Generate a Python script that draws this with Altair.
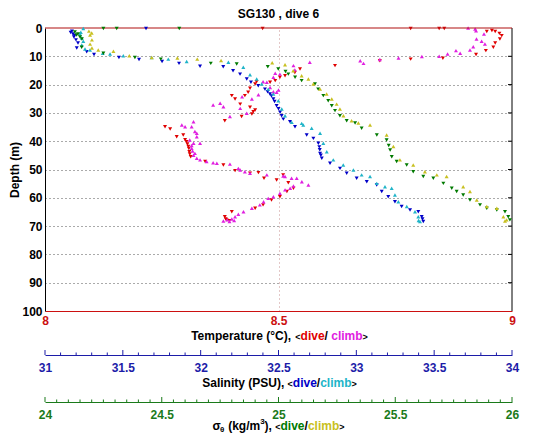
import altair as alt
import pandas as pd

# ---------------- data (depth m, value) ----------------
temp_dive = [(0.2, 8.466), (0.2, 8.783), (0.2, 8.844), (0.2, 8.855), (0.9, 8.957), (1.2, 8.946), (1.2, 8.964),
             (1.9, 8.973), (2.7, 8.978), (3.9, 8.974), (5.3, 8.964), (6.8, 8.960), (8.0, 8.944), (9.4, 8.923),
             (10.7, 8.852), (11.0, 8.783), (11.6, 8.717), (13.3, 8.621), (14.5, 8.546), (15.7, 8.535),
             (16.9, 8.514), (17.4, 8.503), (18.6, 8.493), (19.2, 8.482), (19.0, 8.453), (19.8, 8.450),
             (21.3, 8.439), (22.7, 8.435), (23.9, 8.428), (23.9, 8.400), (25.1, 8.407), (26.9, 8.418),
             (28.0, 8.439), (29.0, 8.450), (29.6, 8.446), (30.4, 8.443), (31.3, 8.421), (32.8, 8.385),
             (34.9, 8.257), (35.7, 8.268), (37.8, 8.296), (38.4, 8.282), (39.5, 8.300), (40.2, 8.303),
             (41.0, 8.305), (41.9, 8.307), (42.6, 8.308), (43.7, 8.309), (44.5, 8.310), (45.5, 8.312),
             (47.2, 8.343), (48.4, 8.382), (50.4, 8.407), (51.3, 8.439), (51.1, 8.457), (53.1, 8.469),
             (53.7, 8.496), (51.9, 8.510), (54.7, 8.521), (56.6, 8.532), (57.8, 8.518), (59.6, 8.503),
             (60.8, 8.485), (62.5, 8.467), (63.7, 8.450), (64.9, 8.400), (66.7, 8.385), (67.5, 8.387),
             (67.8, 8.389), (68.1, 8.395)]
temp_climb = [(0.0, 8.906), (0.35, 8.921), (0.95, 8.923), (2.1, 8.940), (3.9, 8.924), (4.7, 8.935), (5.65, 8.942),
              (6.6, 8.917), (7.8, 8.910), (8.0, 8.880), (8.9, 8.889), (9.2, 8.862), (10.0, 8.844), (10.1, 8.807),
              (10.6, 8.757), (11.1, 8.717), (11.6, 8.675), (12.5, 8.682), (12.1, 8.567), (13.3, 8.532),
              (14.8, 8.535), (16.0, 8.493), (16.3, 8.503), (17.4, 8.489), (19.0, 8.467), (19.2, 8.475),
              (21.0, 8.482), (21.9, 8.500), (22.5, 8.489), (22.7, 8.496), (23.6, 8.457), (24.3, 8.422),
              (25.1, 8.443), (26.6, 8.375), (27.2, 8.360), (27.8, 8.382), (28.4, 8.418), (30.1, 8.432),
              (31.3, 8.396), (33.1, 8.318), (34.3, 8.293), (34.9, 8.300), (34.9, 8.314), (36.6, 8.321),
              (37.2, 8.325), (38.4, 8.325), (39.6, 8.310), (40.7, 8.318), (40.7, 8.332), (41.5, 8.314),
              (42.5, 8.314), (43.5, 8.316), (44.3, 8.321), (45.0, 8.318), (46.0, 8.325), (46.6, 8.332),
              (47.2, 8.346), (47.6, 8.360), (47.8, 8.368), (48.1, 8.396), (49.6, 8.414), (50.2, 8.418),
              (50.8, 8.428), (51.3, 8.439), (51.9, 8.475), (52.3, 8.510), (52.5, 8.514), (53.1, 8.528),
              (53.1, 8.539), (54.3, 8.550), (55.5, 8.564), (55.8, 8.532), (56.6, 8.525), (57.2, 8.514),
              (58.4, 8.503), (59.6, 8.489), (60.2, 8.478), (61.4, 8.468), (62.5, 8.460), (63.7, 8.443),
              (64.9, 8.425), (65.8, 8.414), (66.7, 8.407), (67.5, 8.400), (67.8, 8.390), (68.2, 8.382),
              (68.4, 8.395), (68.0, 8.405)]
sal_dive = [(0.2, 31.649), (1.1, 31.173), (1.6, 31.165), (2.1, 31.180), (2.6, 31.190), (3.2, 31.186),
            (4.2, 31.199), (5.3, 31.212), (7.1, 31.204), (8.4, 31.268), (9.4, 31.315), (10.4, 31.475),
            (11.1, 31.604), (11.8, 31.752), (12.5, 31.861), (13.5, 31.996), (13.7, 32.145), (15.1, 32.208),
            (16.3, 32.253), (18.0, 32.296), (19.2, 32.323), (20.4, 32.370), (21.6, 32.413), (22.5, 32.430),
            (23.3, 32.445), (24.0, 32.455), (25.1, 32.467), (26.0, 32.475), (27.5, 32.488), (28.5, 32.500),
            (29.8, 32.510), (31.0, 32.520), (32.2, 32.531), (33.1, 32.574), (34.9, 32.606), (37.8, 32.681),
            (39.0, 32.724), (40.7, 32.756), (42.0, 32.762), (43.0, 32.765), (44.3, 32.767), (45.0, 32.772),
            (46.0, 32.778), (47.8, 32.831), (49.6, 32.895), (51.3, 32.938), (53.1, 33.002), (54.3, 33.067),
            (55.5, 33.131), (57.8, 33.163), (59.6, 33.205), (61.4, 33.248), (63.1, 33.291), (64.3, 33.345),
            (64.9, 33.398), (66.7, 33.420), (67.5, 33.425), (68.4, 33.430)]
sal_climb = [(0.2, 31.246), (1.5, 31.230), (2.1, 31.225), (3.5, 31.236), (4.7, 31.246), (6.0, 31.236),
             (7.4, 31.257), (7.8, 31.289), (8.9, 31.371), (9.2, 31.418), (9.8, 31.503), (10.4, 31.685),
             (11.0, 31.792), (11.8, 31.910), (12.1, 32.178), (13.9, 32.274), (16.5, 32.317), (18.0, 32.360),
             (19.8, 32.392), (21.6, 32.434), (23.3, 32.467), (25.7, 32.499), (28.6, 32.521), (31.0, 32.542),
             (33.3, 32.585), (33.7, 32.649), (34.3, 32.659), (35.4, 32.713), (37.2, 32.767), (40.7, 32.788),
             (43.7, 32.810), (46.6, 32.852), (48.4, 32.916), (50.2, 32.981), (51.9, 33.034), (52.5, 33.088),
             (54.9, 33.131), (56.1, 33.184), (56.6, 33.227), (59.0, 33.248), (61.4, 33.270), (63.1, 33.324),
             (64.9, 33.377), (66.7, 33.398), (68.0, 33.400), (68.4, 33.409)]
sig_dive = [(0.2, 24.250), (0.2, 24.307), (0.2, 24.575), (1.4, 24.128), (2.1, 24.141), (2.5, 24.135),
            (3.2, 24.150), (3.9, 24.158), (6.8, 24.157), (8.9, 24.250), (10.4, 24.385), (11.0, 24.496),
            (12.5, 24.710), (12.7, 24.821), (13.7, 24.954), (14.5, 24.999), (15.4, 25.030), (16.3, 25.042),
            (17.4, 25.071), (18.6, 25.099), (19.8, 25.156), (21.6, 25.170), (23.9, 25.192), (25.7, 25.213),
            (27.5, 25.228), (29.2, 25.242), (31.0, 25.263), (32.8, 25.292), (33.6, 25.328), (35.4, 25.356),
            (37.8, 25.421), (39.6, 25.463), (41.5, 25.472), (43.1, 25.478), (45.5, 25.485), (47.2, 25.506),
            (48.4, 25.549), (50.8, 25.577), (52.5, 25.620), (53.1, 25.663), (54.9, 25.706), (56.6, 25.742),
            (57.8, 25.763), (59.0, 25.791), (60.8, 25.820), (62.5, 25.863), (63.7, 25.892), (64.3, 25.935),
            (64.9, 25.970), (66.7, 25.984), (67.8, 25.991)]
sig_climb = [(1.1, 24.188), (1.8, 24.200), (2.5, 24.193), (4.2, 24.201), (5.7, 24.193), (7.1, 24.201),
             (7.8, 24.228), (8.2, 24.293), (9.8, 24.361), (10.4, 24.457), (10.6, 24.567), (11.0, 24.652),
             (11.5, 24.754), (12.3, 24.973), (13.0, 25.028), (15.1, 25.063), (16.9, 25.099), (18.0, 25.128),
             (19.8, 25.149), (21.6, 25.178), (23.3, 25.206), (25.1, 25.228), (26.9, 25.249), (28.6, 25.263),
             (31.0, 25.278), (32.8, 25.313), (33.6, 25.342), (34.3, 25.392), (37.8, 25.463), (41.9, 25.492),
             (46.6, 25.520), (48.4, 25.577), (50.8, 25.627), (51.9, 25.678), (52.5, 25.720), (56.1, 25.791),
             (57.8, 25.820), (60.8, 25.849), (63.1, 25.892), (63.7, 25.935), (66.7, 25.963), (67.8, 25.977),
             (68.2, 25.970)]

depth_ticks = [0, 10, 20, 30, 40, 50, 60, 70, 80, 90, 100]
temp_ticks = [8, 8.5, 9]
sal_major = [31, 31.5, 32, 32.5, 33, 33.5, 34]
sal_minor = [31.1, 31.2, 31.3, 31.4, 31.6, 31.7, 31.8, 31.9, 32.1, 32.2, 32.3, 32.4, 32.6, 32.7, 32.8, 32.9,
             33.1, 33.2, 33.3, 33.4, 33.6, 33.7, 33.8, 33.9]
sig_major = [24, 24.5, 25, 25.5, 26]
sig_minor = [24.05, 24.1, 24.15, 24.2, 24.25, 24.3, 24.35, 24.4, 24.45, 24.55, 24.6, 24.65, 24.7, 24.75, 24.8,
             24.85, 24.9, 24.95, 25.05, 25.1, 25.15, 25.2, 25.25, 25.3, 25.35, 25.4, 25.45, 25.55, 25.6, 25.65,
             25.7, 25.75, 25.8, 25.85, 25.9, 25.95]

# ---------------- styling ----------------
W, H = 467, 283
FONT = "Liberation Sans"
RED, MAG = "#e00000", "#e020e0"
BLUE, CYAN = "#0000c8", "#20b4c8"
GREEN, YEL = "#007a00", "#c8c020"
T_AX, S_AX, G_AX = "#cc1010", "#1c1ca8", "#1a7a1a"
SAL_OFF, SIG_OFF = 44, 91
MS = 16


def frame(pairs):
    return pd.DataFrame({"depth": [p[0] for p in pairs], "v": [p[1] for p in pairs]})


yaxis = alt.Axis(values=depth_ticks, title="Depth (m)", titleFont=FONT, titleFontSize=12, titleFontWeight="bold",
                 titleColor="black", titleX=-31, titleY=H / 2, titleAngle=270, titleAlign="center",
                 titleBaseline="middle",
                 labelFont=FONT, labelFontSize=12, labelFontWeight="bold",
                 labelColor="black", labelPadding=3, ticks=False, domain=True, domainColor="black",
                 grid=True, gridDash=[1, 3], gridColor="#555555",
                 gridOpacity={"condition": {"test": "datum.value > 0 && datum.value < 100", "value": 1}, "value": 0})


def yenc():
    return alt.Y("depth:Q", scale=alt.Scale(domain=[0, 100], reverse=True, nice=False, zero=False), axis=yaxis)


def bottom_axis(vals, color, offset, pad, grid=False):
    kw = dict(orient="bottom", values=vals, title=None, labelExpr="'' + datum.value", labelFlush=False,
              labelFont=FONT, labelFontSize=12, labelFontWeight="bold", labelColor=color, labelPadding=pad,
              ticks=False, domainColor=color, offset=offset, grid=grid)
    if grid:
        kw.update(gridDash=[1, 3],
                  gridColor={"condition": {"test": "datum.value == 8.5", "value": "#c89090"}, "value": "transparent"})
    return alt.Axis(**kw)


temp_axis = bottom_axis(temp_ticks, T_AX, 0, 4, grid=True)
sal_axis = bottom_axis(sal_major, S_AX, SAL_OFF, 7)
sig_axis = bottom_axis(sig_major, G_AX, SIG_OFF, 7)


def xenc(dom, axis):
    return alt.X("v:Q", scale=alt.Scale(domain=dom, nice=False, zero=False), axis=axis)


def pts(pairs, shape, color, dom, axis):
    return alt.Chart(frame(pairs)).mark_point(shape=shape, filled=True, size=MS, color=color, opacity=1,
                                              strokeWidth=0).encode(x=xenc(dom, axis), y=yenc())


def ticks(vals, color, dom, axis, offset, length):
    return alt.Chart(pd.DataFrame({"v": vals})).mark_rule(color=color, strokeWidth=1).encode(
        x=xenc(dom, axis), y=alt.value(H + offset - length), y2=alt.value(H + offset))


# frame pieces (no x scale)
right_border = alt.Chart(pd.DataFrame({"a": [0]})).mark_rule(color="black", strokeWidth=1).encode(
    x=alt.value(W), y=alt.value(0), y2=alt.value(H))
top_border = alt.Chart(pd.DataFrame({"a": [0]})).mark_rule(color="#b01010", strokeWidth=1.2).encode(
    x=alt.value(0), x2=alt.value(W), y=alt.value(0))
right_ticks = alt.Chart(pd.DataFrame({"depth": depth_ticks[1:-1]})).mark_rule(color="black").encode(
    y=yenc(), x=alt.value(W - 4), x2=alt.value(W))

temp_group = alt.layer(
    pts(temp_dive, "triangle-down", RED, [8, 9], temp_axis),
    pts(temp_climb, "triangle-up", MAG, [8, 9], temp_axis),
    right_ticks, right_border, top_border,
)
sal_group = alt.layer(
    ticks(sal_major, S_AX, [31, 34], sal_axis, SAL_OFF, 5),
    ticks(sal_minor, S_AX, [31, 34], sal_axis, SAL_OFF, 2.5),
    pts(sal_dive, "triangle-down", BLUE, [31, 34], sal_axis),
    pts(sal_climb, "triangle-up", CYAN, [31, 34], sal_axis),
)
sig_group = alt.layer(
    ticks(sig_major, G_AX, [24, 26], sig_axis, SIG_OFF, 5),
    ticks(sig_minor, G_AX, [24, 26], sig_axis, SIG_OFF, 2.5),
    pts(sig_dive, "triangle-down", GREEN, [24, 26], sig_axis),
    pts(sig_climb, "triangle-up", YEL, [24, 26], sig_axis),
)

# ---------------- multi-coloured titles ----------------
AW = {' ': 278, '(': 333, ')': 333, ',': 278, '/': 278, '<': 584, '>': 584, '°': 400, '.': 278,
      '0': 556, '1': 556, '3': 556, '6': 556, 'T': 611, 'C': 722, 'S': 667, 'P': 667, 'U': 722, 'G': 778,
      'a': 556, 'b': 611, 'c': 556, 'd': 611, 'e': 556, 'g': 611, 'i': 278, 'k': 556, 'l': 278, 'm': 889,
      'n': 611, 'p': 611, 'r': 389, 't': 333, 'u': 611, 'v': 556, 'y': 556, 'σ': 617, 'θ': 611}


def tw(s, fs):
    return sum(AW.get(ch, 556) for ch in s) * fs / 1000.0


def title_layers(segs, cx, cy):
    total = sum(tw(t, fs) for t, c, fs, dy in segs)
    x = cx - total / 2.0
    out = []
    for t, c, fs, dy in segs:
        lead = len(t) - len(t.lstrip(" "))
        x0 = x + tw(" " * lead, fs)
        out.append(alt.Chart(pd.DataFrame({"t": [t.strip(" ")]})).mark_text(
            align="left", baseline="middle", font=FONT, fontSize=fs, fontWeight="bold", color=c).encode(
            text="t:N", x=alt.value(x0), y=alt.value(cy + dy)))
        x += tw(t, fs)
    return out


K = "black"
texts = []
texts += title_layers([("SG130 , dive 6", K, 12, 0)], W / 2, -14)
texts += title_layers([("Temperature (°C), ", K, 12, 0), ("<", K, 9, 1), ("dive", RED, 12, 0), ("/ ", K, 12, 0),
                       ("climb", MAG, 12, 0), (">", K, 9, 1)], W / 2 + 1, 308)
texts += title_layers([("Salinity (PSU), ", K, 12, 0), ("<", K, 9, 1), ("dive", BLUE, 12, 0), ("/", K, 12, 0),
                       ("climb", CYAN, 12, 0), (">", K, 9, 1)], W / 2 + 1, 355)
texts += title_layers([("σ", K, 12, 0), ("θ", K, 8, 4), (" (kg/m", K, 12, 0), ("3", K, 8, -4), ("), ", K, 12, 0),
                       ("<", K, 9, 1), ("dive", GREEN, 12, 0), ("/", K, 12, 0), ("climb", YEL, 12, 0),
                       (">", K, 9, 1)], W / 2, 398)

chart = alt.layer(temp_group, sal_group, sig_group, *texts).resolve_scale(x="independent").properties(
    width=W, height=H,
    padding={"left": 37, "top": 20, "right": 15, "bottom": 123},
    autosize=alt.AutoSizeParams(type="none"),
    background="white",
).configure_view(strokeOpacity=0)

chart.save("out.html", embed_options={"renderer": "svg", "actions": False})
